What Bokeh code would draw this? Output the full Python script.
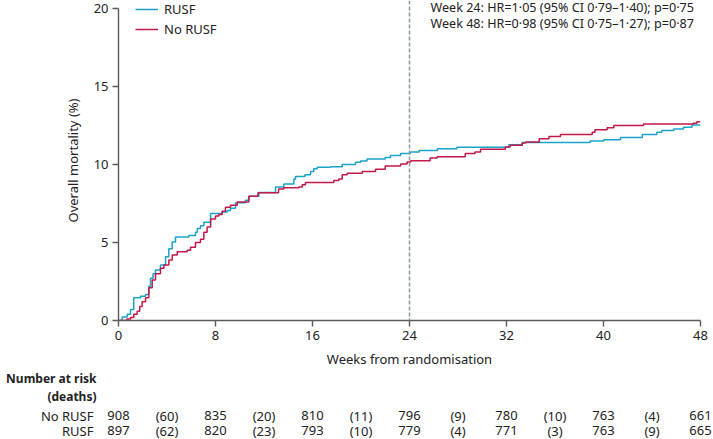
from bokeh.plotting import figure
from bokeh.models import Range1d, Span, Label, Legend, LegendItem, FixedTicker
from bokeh.layouts import column
from bokeh.embed import file_html
from bokeh.resources import INLINE
from bokeh.core.properties import value

# ---------------- data ----------------
rusf_weeks = [0, 0.3, 0.72, 0.99, 1.26, 1.81, 2.23, 2.5, 2.64, 2.85, 3.05, 3.46, 3.88, 4.15,
              4.43, 4.7, 5.8, 6.35, 6.5, 6.76, 7.04, 7.59, 8.55, 8.96, 9.24, 9.65, 10.47,
              10.75, 11.57, 12.95, 13.63, 14.46, 14.6, 15.37, 15.84, 16.1, 16.39, 17.48,
              18.45, 19.55, 19.96, 20.5, 22.0, 22.43, 23.26, 24.08, 24.8, 26.3, 27.9, 32.2,
              33.3, 38.9, 40.03, 41.4, 43.2, 44.4, 44.8, 45.8, 46.6, 47.3, 48.0]
rusf_pct = [0, 0.23, 0.4, 0.7, 1.45, 1.55, 1.66, 2.2, 2.7, 3.0, 3.24, 3.55, 4.08, 4.6,
            5.03, 5.35, 5.45, 5.66, 5.9, 6.08, 6.3, 6.85, 6.95, 7.05, 7.2, 7.55, 7.7,
            7.97, 8.2, 8.55, 8.75, 9.07, 9.23, 9.34, 9.55, 9.72, 9.82, 9.86,
            10.0, 10.14, 10.22, 10.35, 10.45, 10.58, 10.7, 10.8, 10.9, 11.0, 11.1, 11.27,
            11.4, 11.5, 11.59, 11.72, 11.92, 12.07, 12.18, 12.28, 12.38, 12.53, 12.53]

norusf_weeks = [0, 0.7, 1.0, 1.26, 1.54, 1.75, 1.95, 2.23, 2.5, 2.78, 3.05, 3.46, 3.74, 4.15,
                4.43, 4.84, 5.66, 5.94, 6.35, 6.76, 7.04, 7.31, 7.6, 8.0, 8.27, 8.55, 8.82,
                9.24, 9.79, 10.75, 11.5, 13.2, 13.63, 14.87, 15.15, 15.42, 17.76, 18.17,
                18.45, 18.86, 20.1, 21.2, 22.0, 23.26, 23.8, 24.1, 25.7, 26.28, 28.6, 29.4,
                29.86, 31.9, 32.3, 33.3, 33.6, 34.7, 35.5, 36.45, 39.07, 39.3, 40.3, 40.85,
                43.3, 47.4, 47.7, 48.0]
norusf_pct = [0, 0.1, 0.2, 0.4, 0.6, 0.9, 1.2, 1.45, 2.1, 2.6, 3.0, 3.35, 3.55, 3.87,
              4.2, 4.4, 4.5, 4.7, 5.0, 5.2, 5.65, 6.0, 6.5, 6.7, 6.8, 7.0, 7.25,
              7.38, 7.6, 7.97, 8.18, 8.43, 8.5, 8.56, 8.7, 8.85, 8.98, 9.07,
              9.34, 9.44, 9.55, 9.7, 9.9, 10.03, 10.16, 10.24, 10.42, 10.5, 10.7, 10.8,
              10.98, 11.12, 11.23, 11.38, 11.44, 11.65, 11.8, 11.92, 12.07, 12.22, 12.35, 12.49,
              12.6, 12.64, 12.74, 12.74]

x_ticks = [0, 8, 16, 24, 32, 40, 48]
y_ticks = [0, 5, 10, 15, 20]

risk_weeks = [0, 8, 16, 24, 32, 40, 48]
norusf_at_risk = [908, 835, 810, 796, 780, 763, 661]
rusf_at_risk = [897, 820, 793, 779, 771, 763, 665]
death_weeks = [4, 12, 20, 28, 36, 44]
norusf_deaths = [60, 20, 11, 9, 10, 4]
rusf_deaths = [62, 23, 10, 4, 3, 9]

group_labels = ["No RUSF", "RUSF"]
table_heads = ["Number at risk", "(deaths)"]
hr_lines = ["Week 24: HR=1·05 (95% CI 0·79–1·40); p=0·75",
            "Week 48: HR=0·98 (95% CI 0·75–1·27); p=0·87"]
cut_week = 24

# ---------------- style / layout ----------------
FONT = "Noto Sans"
BLUE = "#1ba2c9"
RED = "#c2184a"
AXIS = "#5a5a5a"
TXT = "#222222"
W = 713
H1, H2 = 370, 69
LEFT, RIGHT, BOTTOM = 118, 13, 47
FRAME_H = H1 - BOTTOM            # frame runs from canvas top to the x axis
Y_TOP_PX = 8                     # pixel row of the 20 % level
Y_MAX = 20
y_end = Y_MAX * FRAME_H / (FRAME_H - Y_TOP_PX)

p = figure(width=W, height=H1, x_range=Range1d(0, 48), y_range=Range1d(0, y_end),
           output_backend="svg", toolbar_location=None,
           min_border_left=LEFT, min_border_right=RIGHT,
           min_border_top=0, min_border_bottom=BOTTOM)
p.frame_align = False
p.outline_line_color = None
p.grid.visible = False

for ax in (p.xaxis[0], p.yaxis[0]):
    ax.axis_line_color = AXIS
    ax.axis_line_width = 1.4
    ax.major_tick_line_color = AXIS
    ax.major_tick_line_width = 1.4
    ax.major_tick_out = 6
    ax.major_tick_in = 0
    ax.minor_tick_line_color = None
    ax.major_label_text_font = FONT
    ax.major_label_text_font_size = "13px"
    ax.major_label_text_color = TXT
    ax.axis_label_text_font = FONT
    ax.axis_label_text_font_size = "13px"
    ax.axis_label_text_font_style = "normal"
    ax.axis_label_text_color = TXT

p.xaxis.ticker = FixedTicker(ticks=x_ticks)
p.yaxis.ticker = FixedTicker(ticks=y_ticks)
p.yaxis.bounds = (0, Y_MAX)
p.xaxis.axis_label = "Weeks from randomisation"
p.yaxis.axis_label = "Overall mortality (%)"
p.xaxis.major_label_standoff = 4
p.xaxis.axis_label_standoff = 7
p.yaxis.major_label_standoff = 4
p.yaxis.axis_label_standoff = 9

p.add_layout(Span(location=cut_week, dimension="height", line_color="#8d9ea8",
                  line_width=1.6, line_dash="4 2"))

rb = p.step(rusf_weeks, rusf_pct, mode="after", line_color=BLUE, line_width=1.5)
rr = p.step(norusf_weeks, norusf_pct, mode="after", line_color=RED, line_width=1.5)

legend = Legend(items=[LegendItem(label="RUSF", renderers=[rb]),
                       LegendItem(label="No RUSF", renderers=[rr])],
                location=(17, FRAME_H - 41), padding=0, margin=0, spacing=2,
                glyph_width=23, glyph_height=16, label_height=16, label_standoff=6,
                border_line_color=None, background_fill_alpha=0,
                label_text_font=FONT, label_text_font_size="13px", label_text_color=TXT)
p.add_layout(legend)

for i, t in enumerate(hr_lines):
    p.add_layout(Label(x=cut_week, y=FRAME_H - 10 - 16 * i, x_units="data", y_units="screen",
                       x_offset=21, text=t, text_font=FONT, text_font_size="12.6px",
                       text_color=TXT, text_baseline="middle"))

# ---------------- risk table ----------------
px_per_week = (W - LEFT - RIGHT) / 48
q = figure(width=W, height=H2,
           x_range=Range1d(-LEFT / px_per_week, 48 + RIGHT / px_per_week),
           y_range=Range1d(0, H2), output_backend="svg", toolbar_location=None,
           x_axis_type=None, y_axis_type=None,
           min_border_left=0, min_border_right=0, min_border_top=0, min_border_bottom=0)
q.frame_align = False
q.outline_line_color = None
q.grid.visible = False

tf = value(FONT)
head_y = [61, 43]
row_y = [24, 9]
q.text(x=[0, 0], y=head_y, text=table_heads, x_offset=-22,
       text_align="right", text_baseline="middle", text_font=tf, text_font_size="12px",
       text_font_style="bold", text_color=TXT)
q.text(x=[0, 0], y=row_y, text=group_labels, x_offset=-25,
       text_align="right", text_baseline="middle", text_font=tf, text_font_size="13px",
       text_color=TXT)
for vals, dvals, yy in ((norusf_at_risk, norusf_deaths, row_y[0]),
                        (rusf_at_risk, rusf_deaths, row_y[1])):
    q.text(x=risk_weeks, y=[yy] * len(risk_weeks), text=[str(v) for v in vals],
           text_align="center", text_baseline="middle", text_font=tf,
           text_font_size="13px", text_color=TXT)
    q.text(x=death_weeks, y=[yy] * len(death_weeks), text=[f"({v})" for v in dvals],
           text_align="center", text_baseline="middle", text_font=tf,
           text_font_size="13px", text_color=TXT)

layout = column(p, q, spacing=0)
open("out.html", "w").write(file_html(layout, INLINE))
